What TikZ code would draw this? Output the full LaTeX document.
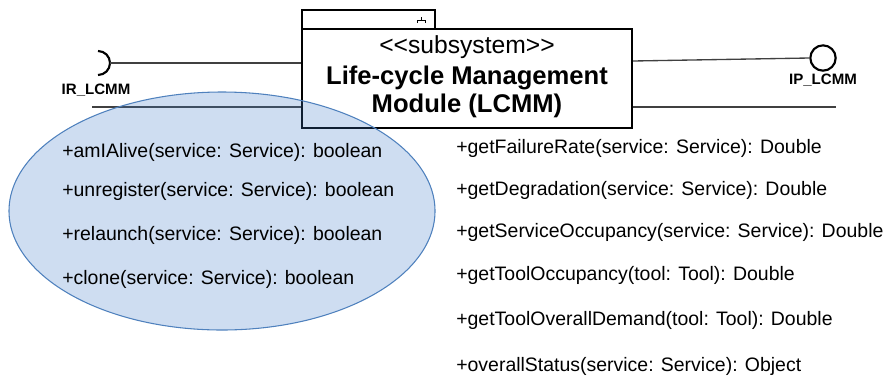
\documentclass[tikz,border=0pt]{standalone}
\usepackage{fontspec}
\setmainfont{Liberation Sans}
\usepackage{tikz}
\definecolor{ovalblue}{RGB}{60,120,200}
\definecolor{ovalline}{RGB}{79,129,189}
\tikzset{
    method/.style={anchor=west, inner sep=0pt, font=\fontsize{14.6}{16}\selectfont},
    portlabel/.style={inner sep=0pt, font=\fontsize{11.3}{13}\selectfont\bfseries},
    wire/.style={line width=1pt, black!75},
}

\begin{document}
\begin{tikzpicture}[x=0.75pt, y=-0.75pt]
    \useasboundingbox (0,0) rectangle (887,379);

    % Draw the subsystem box and its tab
    \draw[line width=1.6pt] (302,10) rectangle (435,29);
    \node[draw, line width=1.6pt, minimum width=247.5pt, minimum height=74.25pt, inner sep=0pt] (lcmm) at (467,78.5) {};

    % Component icon in the tab
    \draw[line width=0.6pt] (417,23) -- (417,20) -- (425,20) -- (425,23);
    \draw[line width=0.6pt] (421,20) -- (421,17);

    % Title text
    \node[inner sep=0pt, font=\fontsize{18.5}{20}\selectfont] (stereo) at (467,47) {<\kern0pt<subsystem>\kern0pt>};
    \node[inner sep=0pt, font=\fontsize{19.2}{21}\selectfont\bfseries] (title1) at (467,78) {Life-cycle Management};
    \node[inner sep=0pt, font=\fontsize{19.2}{21}\selectfont\bfseries] (title2) at (467,106) {Module (LCMM)};

    % Required interface on the left
    \coordinate (ir) at (110,63);
    \draw[line width=1.6pt] (98,51) arc (-90:90:12);
    \draw[wire] (ir) -- (lcmm.west |- ir);
    \node[portlabel] (irlabel) at (96,90) {IR\_LCMM};

    % Provided interface on the right
    \node[circle, draw, line width=1.6pt, minimum size=19pt, inner sep=0pt] (ip) at (823,58) {};
    \draw[wire] (lcmm.east |- 0,61) -- (ip.west);
    \node[portlabel] (iplabel) at (823,80) {IP\_LCMM};

    % Lower lines
    \coordinate (lowleft) at (92,107);
    \coordinate (lowright) at (836,107);
    \draw[wire] (lowleft) -- (lcmm.west |- lowleft);
    \draw[wire] (lcmm.east |- lowright) -- (lowright);

    % Highlighted group of operations
    \filldraw[fill=ovalblue, fill opacity=0.25, draw=ovalline, line width=0.8pt] (222,211) ellipse (213 and 119);

    % Operations inside the oval
    \foreach \y/\txt in {152/+amIAlive(service: Service): boolean,
                         191/+unregister(service: Service): boolean,
                         235/+relaunch(service: Service): boolean,
                         279/+clone(service: Service): boolean} {
        \node[method] (opl-\y) at (62,\y) {\txt};
    }

    % Remaining operations
    \foreach \y/\txt in {148/+getFailureRate(service: Service): Double,
                         190/+getDegradation(service: Service): Double,
                         232/+getServiceOccupancy(service: Service): Double,
                         275/+getToolOccupancy(tool: Tool): Double,
                         320/+getToolOverallDemand(tool: Tool): Double,
                         366/+overallStatus(service: Service): Object} {
        \node[method] (opr-\y) at (456,\y) {\txt};
    }
\end{tikzpicture}
\end{document}
